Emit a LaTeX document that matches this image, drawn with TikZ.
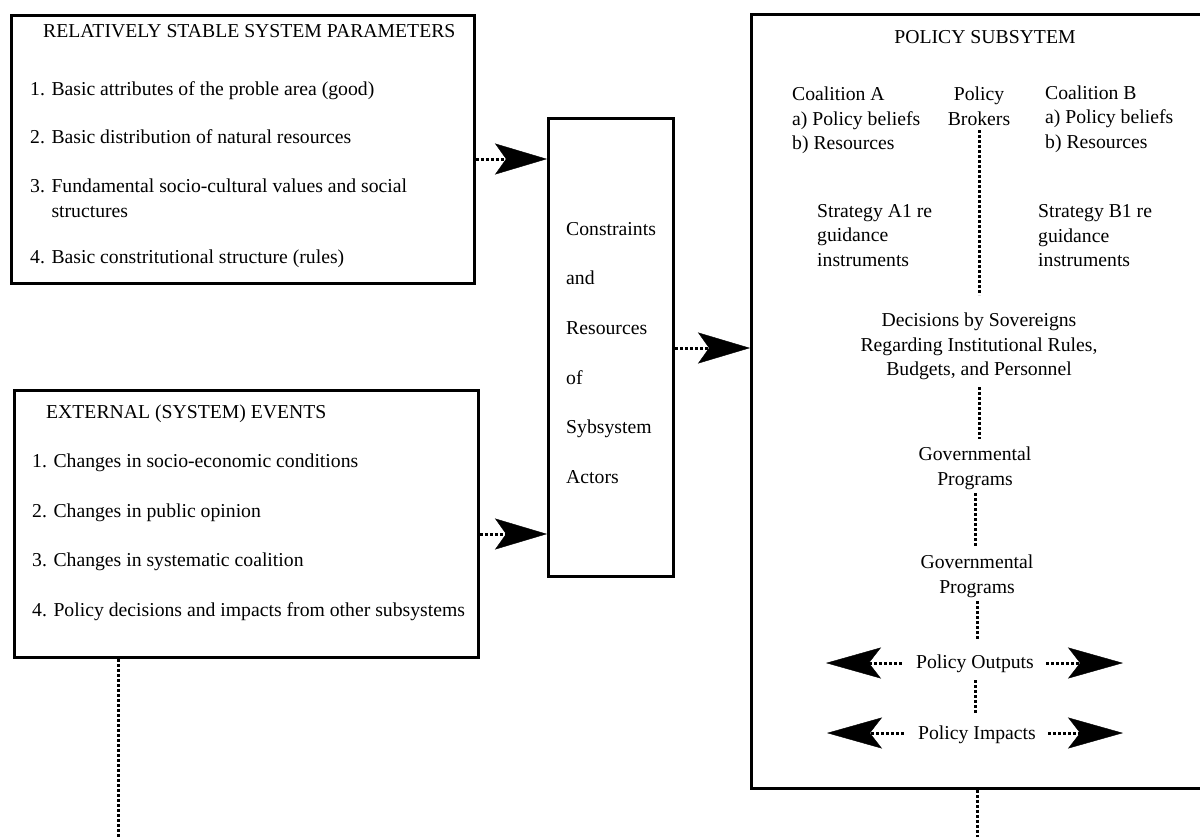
\documentclass[tikz,border=0pt]{standalone}
\usepackage{fontspec}
\setmainfont{Liberation Serif}
\usetikzlibrary{arrows.meta}
\begin{document}
\begin{tikzpicture}[x=1pt,y=-1pt,
  frame/.style={draw=black, line width=2.8pt, inner sep=0pt, anchor=north west},
  txt/.style={inner sep=0pt, font=\fontsize{19.7}{24.5}\selectfont},
  item/.style={txt, anchor=base west},
  block/.style={txt, align=left, anchor=north west},
  cblock/.style={txt, align=center, anchor=north},
  dots/.style={line width=3pt, dash pattern=on 3pt off 2pt},
  flow/.style={dots, -{Stealth[length=52pt,width=31pt,inset=11pt,line width=0.4pt]}},
  twoway/.style={dots, -{Stealth[length=55pt,width=31pt,inset=12pt,line width=0.4pt]}},
]
\useasboundingbox (0,0) rectangle (1200,836);
\clip (0,0) rectangle (1200,836);

% ---- left column: system parameters and external events ----
\node[frame, minimum width=463pt, minimum height=268pt] (params) at (10,14) {};
\node[item] (paramsT) at (43,37) {RELATIVELY STABLE SYSTEM PARAMETERS};
\node[item] (p1) at (30,95) {1. Basic attributes of the proble area (good)};
\node[item] (p2) at (30,143) {2. Basic distribution of natural resources};
\node[block] (p3) at (30,179) {3. Fundamental socio-cultural values and social\\\phantom{3. }structures};
\node[item] (p4) at (30,263) {4. Basic constritutional structure (rules)};

\node[frame, minimum width=464pt, minimum height=267pt] (events) at (13,389) {};
\node[item] (eventsT) at (46,418) {EXTERNAL (SYSTEM) EVENTS};
\node[item] (e1) at (32,467) {1. Changes in socio-economic conditions};
\node[item] (e2) at (32,517) {2. Changes in public opinion};
\node[item] (e3) at (32,566) {3. Changes in systematic coalition};
\node[item] (e4) at (32,616) {4. Policy decisions and impacts from other subsystems};

% ---- middle column ----
\node[frame, minimum width=125pt, minimum height=458pt] (crb) at (547,117) {};
\node[txt, align=left, anchor=north west, font=\fontsize{19.7}{49.6}\selectfont] (crbT) at (566,222)
  {Constraints\\and\\Resources\\of\\Sybsystem\\Actors};

% ---- right column: the policy subsystem ----
\node[frame, minimum width=480pt, minimum height=774pt] (policy) at (750,13) {};
\node[txt, anchor=base] (policyT) at (985,43) {POLICY SUBSYTEM};
\node[block] (coalA) at (792,87) {Coalition A\\a) Policy beliefs\\b) Resources};
\node[cblock] (brokers) at (979,87) {Policy\\Brokers};
\node[block] (coalB) at (1045,85.5) {Coalition B\\a) Policy beliefs\\b) Resources};
\node[block] (stratA) at (817,204) {Strategy A1 re\\guidance\\instruments};
\node[block] (stratB) at (1038,204.5) {Strategy B1 re\\guidance\\instruments};
\node[cblock] (decisions) at (979,313) {Decisions by Sovereigns\\Regarding Institutional Rules,\\Budgets, and Personnel};
\node[cblock] (gov1) at (975,447) {Governmental\\Programs};
\node[cblock] (gov2) at (977,555) {Governmental\\Programs};
\node[txt, anchor=base] (outputs) at (975,668) {Policy Outputs};
\node[txt, anchor=base] (impacts) at (977,739) {Policy Impacts};

% free ends of the connectors
\coordinate (outL) at (826,663);
\coordinate (outR) at (1123,663);
\coordinate (impL) at (827,733);
\coordinate (impR) at (1123,733);
\coordinate (policyOut) at (977,840);
\coordinate (eventsOut) at (118,840);

% ---- connectors into the middle and right boxes ----
\draw[flow] (params.east |- 0,159) -- (crb.west |- 0,159);
\draw[flow] (events.east |- 0,534) -- (crb.west |- 0,534);
\draw[flow] (crb.east |- 0,348) -- (policy.west |- 0,348);

% ---- chain inside the policy subsystem ----
\draw[dots] (brokers.south |- 0,130) -- (brokers.south |- 0,295);
\draw[dots] (decisions.south |- 0,387) -- (decisions.south |- 0,439);
\draw[dots] (gov1.south |- 0,493) -- (gov1.south |- 0,547);
\draw[dots] (gov2.south |- 0,601) -- (gov2.south |- 0,640);
\draw[dots] (outputs.south |- 0,680) -- (outputs.south |- 0,713);

\draw[twoway] ([xshift=-14pt]outputs.west |- outL) -- (outL);
\draw[twoway] ([xshift=12pt]outputs.east |- outR) -- (outR);
\draw[twoway] ([xshift=-14pt]impacts.west |- impL) -- (impL);
\draw[twoway] ([xshift=12pt]impacts.east |- impR) -- (impR);

% ---- lines leaving at the bottom ----
\draw[dots] (policy.south -| policyOut) -- (policyOut);
\draw[dots] (events.south -| eventsOut) -- (eventsOut);
\end{tikzpicture}
\end{document}
